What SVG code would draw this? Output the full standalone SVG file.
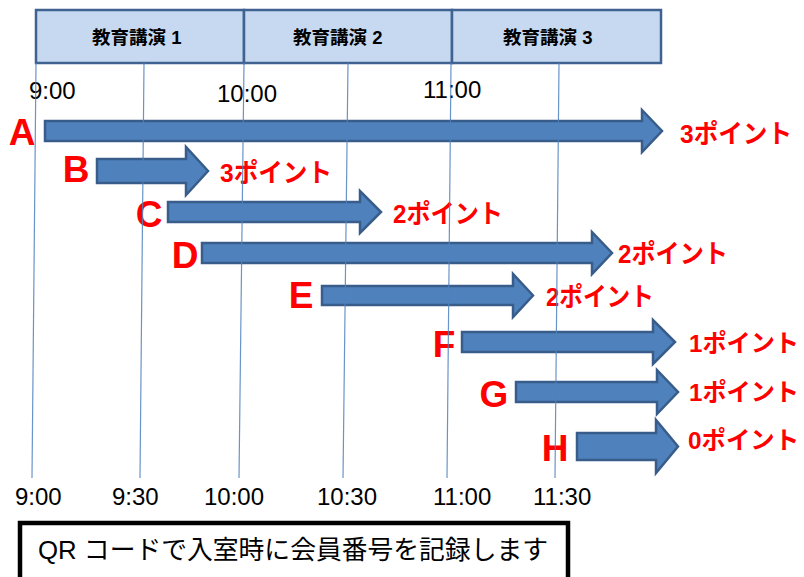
<svg xmlns="http://www.w3.org/2000/svg" width="804" height="577" viewBox="0 0 804 577">
<style>
  .hdr { fill: #c6d9f1; stroke: #3f6290; stroke-width: 2.5; }
  .hdrt { font-family: "Liberation Sans", "Noto Sans CJK JP", sans-serif; font-weight: bold; font-size: 18.5px; fill: #000; }
  .time { font-family: "Liberation Sans", "Noto Sans CJK JP", sans-serif; font-size: 24px; fill: #000; }
  .arrow { fill: #4f81bd; stroke: #385d8a; stroke-width: 2.5; stroke-linejoin: miter; }
  .letter { font-family: "Liberation Sans", sans-serif; font-weight: bold; font-size: 37px; fill: #ff0000; text-anchor: middle; }
  .pts { font-family: "Liberation Sans", "Noto Sans CJK JP", sans-serif; font-weight: bold; font-size: 26px; fill: #ff0000; }
  .pts.edge { font-size: 24.5px; }
  .grid { stroke: #4f81bd; stroke-width: 1.2; stroke-opacity: 0.85; fill: none; }
  .note { fill: #fff; stroke: #000; stroke-width: 4.5; }
  .notet { font-family: "Liberation Sans", "Noto Sans CJK JP", sans-serif; font-size: 26px; fill: #000; }
</style>
<rect width="804" height="577" fill="#fff"/>

<g id="header">
  <g id="lecture1">
    <rect class="hdr" x="36" y="10" width="208" height="53"/>
    <text class="hdrt" x="92" y="44">教育講演 1</text>
  </g>
  <g id="lecture2">
    <rect class="hdr" x="244" y="10" width="208" height="53"/>
    <text class="hdrt" x="293" y="44">教育講演 2</text>
  </g>
  <g id="lecture3">
    <rect class="hdr" x="452" y="10" width="209" height="53"/>
    <text class="hdrt" x="503" y="44">教育講演 3</text>
  </g>
</g>

<g id="top-times">
  <text class="time" x="29" y="99">9:00</text>
  <text class="time" x="217" y="102">10:00</text>
  <text class="time" x="423" y="98">11:00</text>
</g>

<g id="A">
  <polygon class="arrow" points="45,121 642,121 642,110 662,131 642,152 642,141 45,141"/>
  <text class="letter" x="22" y="145">A</text>
  <text class="pts" x="680" y="143" textLength="112" lengthAdjust="spacingAndGlyphs">3ポイント</text>
</g>
<g id="B">
  <polygon class="arrow" points="97,159 186,159 186,147 208,171 186,195 186,183 97,183"/>
  <text class="letter" x="76" y="182">B</text>
  <text class="pts" x="220" y="182" textLength="112" lengthAdjust="spacingAndGlyphs">3ポイント</text>
</g>
<g id="C">
  <polygon class="arrow" points="168,202 360,202 360,191 381,212 360,233 360,222 168,222"/>
  <text class="letter" x="149" y="227">C</text>
  <text class="pts" x="393" y="223" textLength="110" lengthAdjust="spacingAndGlyphs">2ポイント</text>
</g>
<g id="D">
  <polygon class="arrow" points="202,243 592,243 592,232 612,253 592,274 592,263 202,263"/>
  <text class="letter" x="185" y="268">D</text>
  <text class="pts" x="618" y="263" textLength="110" lengthAdjust="spacingAndGlyphs">2ポイント</text>
</g>
<g id="E">
  <polygon class="arrow" points="322,286 513,286 513,274 533,295.5 513,317 513,305 322,305"/>
  <text class="letter" x="301" y="308">E</text>
  <text class="pts" x="546" y="306" textLength="108" lengthAdjust="spacingAndGlyphs">2ポイント</text>
</g>
<g id="F">
  <polygon class="arrow" points="462,332 653,332 653,320 675,342 653,364 653,352 462,352"/>
  <text class="letter" x="444" y="357">F</text>
  <text class="pts edge" x="689" y="352" textLength="110" lengthAdjust="spacingAndGlyphs">1ポイント</text>
</g>
<g id="G">
  <polygon class="arrow" points="516,382 657,382 657,370 678,392 657,414 657,402 516,402"/>
  <text class="letter" x="494" y="407">G</text>
  <text class="pts edge" x="689" y="401" textLength="110" lengthAdjust="spacingAndGlyphs">1ポイント</text>
</g>
<g id="H">
  <polygon class="arrow" points="577,433 656,433 656,420 678,446.5 656,473 656,460 577,460"/>
  <text class="letter" x="555" y="461">H</text>
  <text class="pts edge" x="688" y="449" textLength="111" lengthAdjust="spacingAndGlyphs">0ポイント</text>
</g>

<g id="connectors">
  <line class="grid" x1="36" y1="63" x2="32" y2="478"/>
  <line class="grid" x1="144" y1="63" x2="140" y2="478"/>
  <line class="grid" x1="244" y1="63" x2="239" y2="478"/>
  <line class="grid" x1="348" y1="63" x2="343" y2="478"/>
  <line class="grid" x1="451" y1="63" x2="447" y2="478"/>
  <line class="grid" x1="559" y1="63" x2="555" y2="478"/>
</g>

<g id="bottom-times">
  <text class="time" x="15" y="505">9:00</text>
  <text class="time" x="112" y="505">9:30</text>
  <text class="time" x="204" y="505">10:00</text>
  <text class="time" x="317" y="505">10:30</text>
  <text class="time" x="433" y="505">11:00</text>
  <text class="time" x="533" y="505">11:30</text>
</g>

<g id="note">
  <rect class="note" x="20" y="523" width="548" height="80"/>
  <text class="notet" x="38" y="559" textLength="510" lengthAdjust="spacingAndGlyphs">QR コードで入室時に会員番号を記録します</text>
</g>
</svg>
